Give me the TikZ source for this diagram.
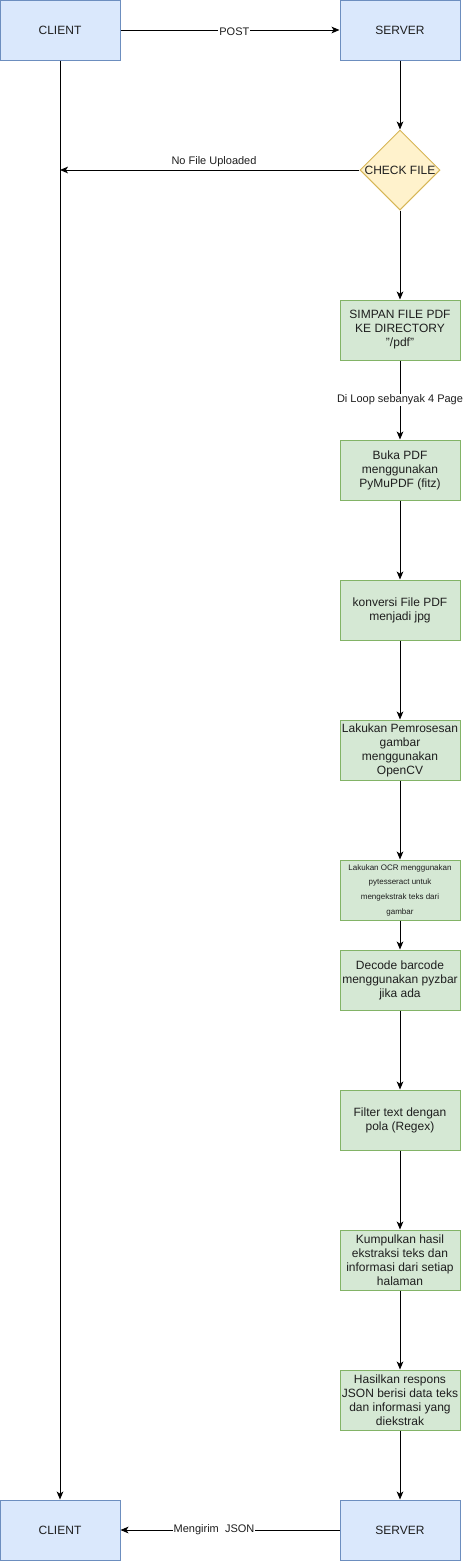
\documentclass[tikz,border=0pt]{standalone}
\usepackage{fontspec}
\setmainfont{Liberation Sans}
\usepackage{tikz}
\usetikzlibrary{shapes.geometric,arrows.meta}

\definecolor{clientfill}{RGB}{218,232,252}
\definecolor{clientline}{RGB}{108,142,191}
\definecolor{stepfill}{RGB}{213,232,212}
\definecolor{stepline}{RGB}{130,179,102}
\definecolor{checkfill}{RGB}{255,242,204}
\definecolor{checkline}{RGB}{214,182,86}
\definecolor{txt}{RGB}{30,30,30}

\begin{document}
\begin{tikzpicture}[x=0.75pt,y=0.75pt,yscale=-1,xscale=1,
    actor/.style={draw=clientline,fill=clientfill,line width=0.75pt,minimum width=90pt,minimum height=45pt,inner sep=0pt,font=\fontsize{9}{10.5}\selectfont,text=txt},
    stepbox/.style={draw=stepline,fill=stepfill,line width=0.75pt,minimum width=90pt,minimum height=45pt,inner sep=0pt,align=center,font=\fontsize{9}{10.5}\selectfont,text=txt},
    decision/.style={diamond,draw=checkline,fill=checkfill,line width=0.75pt,minimum width=60pt,minimum height=60pt,inner sep=0pt},
    flow/.style={line width=0.75pt,-{Stealth[length=6pt,width=5pt,inset=1.6pt]}},
    edgelabel/.style={font=\fontsize{8.25}{9.5}\selectfont,text=txt,inner sep=0.75pt}]
    \useasboundingbox (0,0) rectangle (464,1561);

    %Shape: Rectangle
    \node[actor] (clientTop) at (60,30) {CLIENT};
    \node[actor] (serverTop) at (400,30) {SERVER};
    %Shape: Diamond
    \node[decision] (check) at (400,170) {};
    \node[font=\fontsize{9}{10.5}\selectfont,text=txt,inner sep=0pt] (checkText) at (check) {CHECK FILE};
    \coordinate (noFile) at (60,170);
    %Shape: Rectangle
    \node[stepbox] (simpan) at (400,330) {SIMPAN FILE PDF\\KE DIRECTORY\\"/pdf"};
    \node[stepbox] (buka) at (400,470) {Buka PDF\\menggunakan\\PyMuPDF (fitz)};
    \node[stepbox] (konversi) at (400,610) {konversi File PDF\\menjadi jpg};
    \node[stepbox] (proses) at (400,750) {Lakukan Pemrosesan\\gambar\\menggunakan\\OpenCV};
    \node[stepbox,font=\fontsize{6}{11}\selectfont] (ocr) at (400,890) {Lakukan OCR menggunakan\\pytesseract untuk\\mengekstrak teks dari\\gambar};
    \node[stepbox] (decode) at (400,980) {Decode barcode\\menggunakan pyzbar\\jika ada};
    \node[stepbox] (filter) at (400,1120) {Filter text dengan\\pola (Regex)};
    \node[stepbox] (kumpul) at (400,1260) {Kumpulkan hasil\\ekstraksi teks dan\\informasi dari setiap\\halaman};
    \node[stepbox] (hasil) at (400,1400) {Hasilkan respons\\JSON berisi data teks\\dan informasi yang\\diekstrak};
    \node[actor] (clientBottom) at (60,1530) {CLIENT};
    \node[actor] (serverBottom) at (400,1530) {SERVER};

    %Straight Lines
    \draw[flow] (clientTop) -- node[edgelabel,fill=white,pos=0.52,yshift=-1pt] (postLabel) {POST} (serverTop);
    \draw[flow] (clientTop) -- (clientBottom);
    \draw[flow] (serverTop) -- (check);
    \draw[flow] (check) -- (noFile);
    \draw[flow] (check) -- (simpan);
    \draw[flow] (simpan) -- node[edgelabel,fill=white,pos=0.5] (loopLabel) {Di Loop sebanyak 4 Page} (buka);
    \draw[flow] (buka) -- (konversi);
    \draw[flow] (konversi) -- (proses);
    \draw[flow] (proses) -- (ocr);
    \draw[flow] (ocr) -- (decode);
    \draw[flow] (decode) -- (filter);
    \draw[flow] (filter) -- (kumpul);
    \draw[flow] (kumpul) -- (hasil);
    \draw[flow] (hasil) -- (serverBottom);
    \draw[flow] (serverBottom) -- node[edgelabel,fill=white,pos=0.573] (jsonLabel) {Mengirim\ \ JSON} (clientBottom);

    % Text Node
    \node[edgelabel] (noFileLabel) at (214,162) {No File Uploaded};

\end{tikzpicture}
\end{document}
